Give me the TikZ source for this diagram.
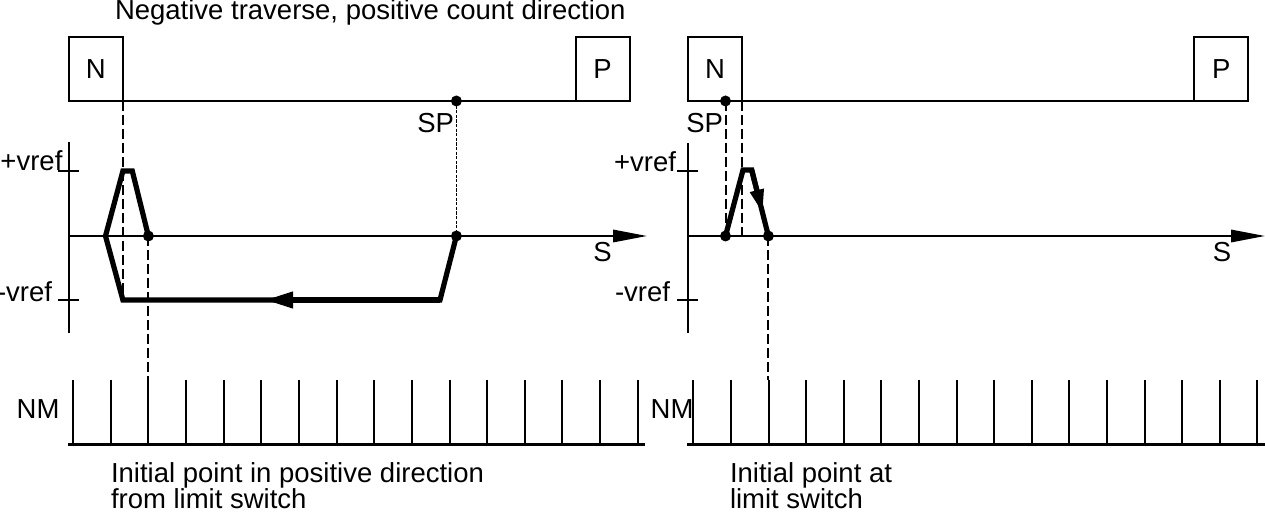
\documentclass[tikz,border=0pt]{standalone}
\usepackage{fontspec}
\setmainfont{Liberation Sans}
\usetikzlibrary{arrows.meta,calc}
\begin{document}
\begin{tikzpicture}[x=0.5pt,y=-0.5pt,
  every node/.style={font=\fontsize{13.75}{15}\selectfont, inner sep=0pt, outer sep=0pt},
  caption/.style={align=left, font=\fontsize{13.75}{13}\selectfont},
  thinline/.style={line width=1pt},
  box/.style={draw, line width=1pt, minimum width=27pt, minimum height=32pt},
  profile/.style={line width=2.6pt, line join=miter, line cap=butt},
  dashline/.style={line width=1pt, dash pattern=on 5pt off 2pt},
  finedash/.style={line width=0.9pt, dash pattern=on 1.6pt off 0.7pt},
  dot/.style={circle, fill=black, minimum size=5.5pt},
  axisarrow/.style={line width=1pt, -{Triangle[length=17pt,width=6.2pt]}},
  combtick/.style={line width=1pt},
  combbase/.style={line width=1.5pt},
]
\useasboundingbox (0,0) rectangle (1265,512);

% ---------------- title ----------------
\node[anchor=base west] (title) at (115,20) {Negative traverse, positive count direction};

% ================= LEFT PANEL =================
\node[box] (LN) at (95.9,69) {N};
\node[box] (LP) at (602.6,69) {P};
\draw[thinline] (LN.south west) -- (LP.south east);

% axes
\coordinate (Lvt) at (69,142);
\coordinate (Lvb) at (69,333);
\coordinate (LO) at (69,236);
\coordinate (LSend) at (647,236);
\draw[thinline] (Lvt) -- (Lvb);
\draw[axisarrow] (LO) -- (LSend);
\coordinate (Ltp1) at (58,171); \coordinate (Ltp2) at (79,171);
\coordinate (Ltm1) at (58,300); \coordinate (Ltm2) at (79,300);
\draw[thinline] (Ltp1) -- (Ltp2);
\draw[thinline] (Ltm1) -- (Ltm2);
\node[anchor=base west] (Lpv) at (0.5,171) {+vref};
\node[anchor=base east] (Lmv) at (52,301.5) {-vref};
\node[anchor=base] (LS) at (602.5,262) {S};
\node[anchor=base east] (LSP) at (454,133) {SP};

% key points
\coordinate (Lx1) at (148.4,236);
\coordinate (Lx2) at (456.4,236);
\coordinate (Lxsp) at (456.4,101);
\coordinate (Lc1) at (440,300);
\coordinate (Lc2) at (122.9,300);
\coordinate (Lc3) at (105.5,236);
\coordinate (Lc4) at (122.9,171);
\coordinate (Lc5) at (132.3,171);
\coordinate (Lat) at (265,300);
\coordinate (Lnm) at (148.4,380);

% dashed guides
\draw[dashline] (LN.south east) -- (Lc2);
\draw[finedash] (Lxsp) -- (Lx2);
\draw[dashline] (Lx1) -- (Lnm);

% profile
\draw[profile] (Lx2) -- (Lc1) -- (Lc2) -- (Lc3) -- (Lc4) -- (Lc5) -- (Lx1);
\draw[profile, -{Triangle[length=14pt,width=7.8pt]}] (Lc1) -- (Lat);

\node[dot] (Ld1) at (Lx1) {};
\node[dot] (Ld2) at (Lx2) {};
\node[dot] (Lsp) at (Lxsp) {};

% NM comb
\node[anchor=base west] (LNM) at (16.7,419) {NM};
\coordinate (Lb1) at (68.3,445);
\coordinate (Lb2) at (645,445);
\draw[combbase] (Lb1) -- (Lb2);
\foreach \i in {0,...,15} {
  \draw[combtick] ({73+37.65*\i},380) -- ({73+37.65*\i},445);
}
\node[caption, anchor=south west] (Lcap) at (111,509) {Initial point in positive direction\\from limit switch};

% ================= RIGHT PANEL =================
\node[box] (RN) at (715,69) {N};
\node[box] (RP) at (1221.3,69) {P};
\draw[thinline] (RN.south west) -- (RP.south east);

\coordinate (Rvt) at (688,143);
\coordinate (Rvb) at (688,333);
\coordinate (RO) at (688,236);
\coordinate (RSend) at (1265,236);
\draw[thinline] (Rvt) -- (Rvb);
\draw[axisarrow] (RO) -- (RSend);
\coordinate (Rtp1) at (677,171); \coordinate (Rtp2) at (697.5,171);
\coordinate (Rtm1) at (677,300.5); \coordinate (Rtm2) at (697.5,300.5);
\draw[thinline] (Rtp1) -- (Rtp2);
\draw[thinline] (Rtm1) -- (Rtm2);
\node[anchor=base east] (Rpv) at (676,172) {+vref};
\node[anchor=base east] (Rmv) at (670,301.5) {-vref};
\node[anchor=base] (RS) at (1222,262) {S};
\node[anchor=base east] (RSP) at (723,133) {SP};

\coordinate (Rx1) at (725.5,236);
\coordinate (Rx2) at (768.4,236);
\coordinate (Rxsp) at (725.5,101);
\coordinate (Rc1) at (743,170);
\coordinate (Rc2) at (751.7,170);
\coordinate (Rnb) at (742,236);
\coordinate (Rnm) at (768.4,380);

\draw[dashline] (RN.south east) -- (Rnb);
\draw[dashline] (Rxsp) -- (Rx1);
\draw[dashline] (Rx2) -- (Rnm);

\draw[profile] (Rx1) -- (Rc1) -- (Rc2) -- (Rx2);
\draw[profile, -{Triangle[length=12pt,width=6.5pt]}] (Rc2) -- ($(Rc2)!0.66!(Rx2)$);

\node[dot] (Rd1) at (Rx1) {};
\node[dot] (Rd2) at (Rx2) {};
\node[dot] (Rsp) at (Rxsp) {};

\node[anchor=base west] (RNM) at (650.7,419) {NM};
\coordinate (Rb1) at (687.3,445);
\coordinate (Rb2) at (1265,445);
\draw[combbase] (Rb1) -- (Rb2);
\foreach \i in {0,...,15} {
  \draw[combtick] ({693.3+37.6*\i},380) -- ({693.3+37.6*\i},445);
}
\node[caption, anchor=south west] (Rcap) at (730,509) {Initial point at\\limit switch};
\end{tikzpicture}
\end{document}
